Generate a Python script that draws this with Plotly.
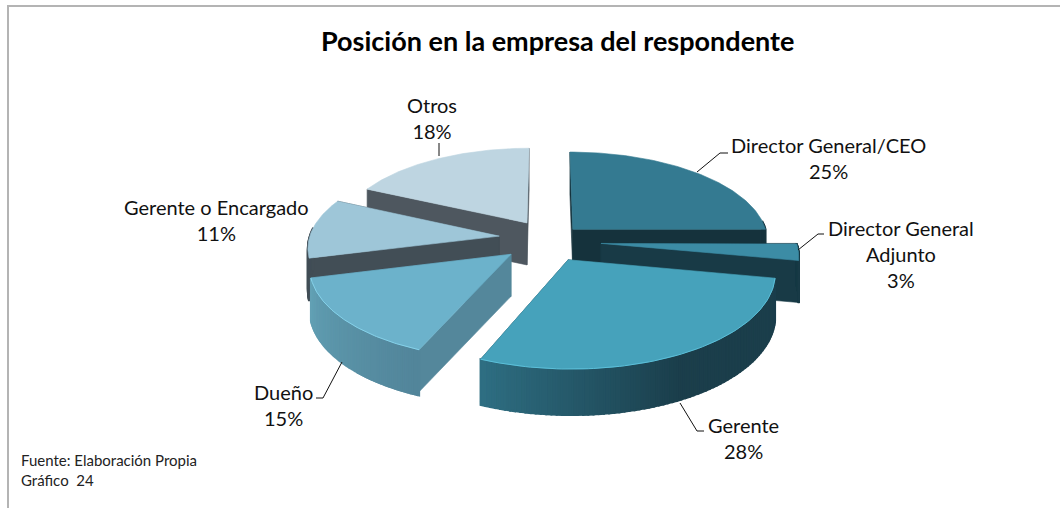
import numpy as np
import plotly.graph_objects as go

title = 'Posición en la empresa del respondente'
labels = ['Director General/CEO', 'Director General<br>Adjunto', 'Gerente', 'Dueño', 'Gerente o Encargado', 'Otros']
values = [25, 3, 28.4, 14.6, 11, 18]
footer = 'Fuente: Elaboración Propia<br>Gráfico  24'

# estilo de cada porción
pull = [0.20, 0.28, 0.24, 0.22, 0.22, 0.20]
scale = [0.98, 0.975, 1, 0.98, 0.95, 0.95]
nudge = [(0, 1), (0, 0), (0, -1), (0, 0), (-2, -3), (3, -3)]
top_col = ['#347a91', '#3c8ca5', '#46a2bb', '#6cb2cb', '#9ec6d8', '#bed5e1']
wall_col = ['#15323c', '#183a46', '#1b3e4b', '#54879b', '#424e56', '#4e575f']
arc_from = ['#15323c', '#183a46', '#1b3e4b', '#52859a', '#424e56', '#4e575f']
arc_to = ['#15323c', '#183a46', '#2e6e82', '#62a0b4', '#424e56', '#4e575f']
arc_flat = [0, 0, 0.5, 0, 0, 0]
rim_col = [None, None, '#5cc0da', '#86d2ea', None, None]
draw_order = [5, 4, 0, 1, 3, 2]
label_pos = [(828, 158), (901, 254), (743, 438), (283, 405), (216, 220), (432, 118)]

# proyección en perspectiva (px)
CX, CY = 545, 241
R, RY, K = 200, 91, 0.12
H = 42

leaders = [
    [(697, 172), (720, 153), (728, 153)],
    [(798, 250), (818, 234), (824, 234)],
    [(680, 403), (697, 431), (704, 431)],
    [(342, 362), (323, 398), (316, 398)],
    [(439, 156), (439, 143)],
]


def project(u, v):
    w = 1 + K * v
    return CX + R * u / w, CY - RY * v / w


def hex_rgb(c):
    return np.array([int(c[i:i + 2], 16) for i in (1, 3, 5)], dtype=float)


fig = go.Figure()


def poly(xs, ys, color, width=0.6):
    fig.add_trace(go.Scatter(x=xs, y=ys, mode='lines', fill='toself', fillcolor=color,
                             line=dict(color=color, width=width), hoverinfo='skip', showlegend=False))


ends = np.cumsum(values) / sum(values) * 2 * np.pi
starts = np.concatenate([[0], ends[:-1]])

for i in draw_order:
    a0, a1 = starts[i], ends[i]
    mid = (a0 + a1) / 2
    du, dv = pull[i] * np.sin(mid), pull[i] * np.cos(mid)
    ang = np.linspace(a0, a1, 80)
    xs, ys = project(scale[i] * np.sin(ang) + du, scale[i] * np.cos(ang) + dv)
    ax, ay = project(du, dv)
    xs, ys, ax, ay = xs + nudge[i][0], ys + nudge[i][1], ax + nudge[i][0], ay + nudge[i][1]

    # paredes radiales, primero la de más atrás
    walls = sorted([0, -1], key=lambda j: ys[j])
    for j in walls:
        poly([ax, xs[j], xs[j], ax, ax], [ay, ys[j], ys[j] + H, ay + H, ay], wall_col[i])

    # pared exterior en franjas para el degradado
    front = np.where(np.cos(ang) < 0.1)[0]
    for n, (p, q) in enumerate(zip(front[:-1], front[1:])):
        t = n / max(len(front) - 2, 1)
        t = max(t - arc_flat[i], 0) / (1 - arc_flat[i])
        c = hex_rgb(arc_from[i]) + (hex_rgb(arc_to[i]) - hex_rgb(arc_from[i])) * t
        color = 'rgb(%d,%d,%d)' % tuple(c)
        hp, hq = H - 4 * np.cos(ang[p]), H - 4 * np.cos(ang[q])
        poly([xs[p], xs[q], xs[q], xs[p], xs[p]], [ys[p], ys[q], ys[q] + hq, ys[p] + hp, ys[p]], color, width=2)

    poly([ax, *xs, ax], [ay, *ys, ay], top_col[i])

    if rim_col[i]:
        fig.add_trace(go.Scatter(x=xs, y=ys, mode='lines', line=dict(color=rim_col[i], width=1),
                                 hoverinfo='skip', showlegend=False))

annotations = [dict(x=557.5, y=40, text='<b>%s</b>' % title, showarrow=False,
                    font=dict(size=27, color='black'))]
for name, val, (lx, ly) in zip(labels, values, label_pos):
    annotations.append(dict(x=lx, y=ly, text='%s<br>%.0f%%' % (name, val), showarrow=False,
                            font=dict(size=20, color='#111111')))
annotations.append(dict(x=19, y=470, text=footer, showarrow=False, xanchor='left', align='left',
                        font=dict(size=15, color='#222222')))

shapes = [
    dict(type='line', x0=7, x1=1060, y0=6, y1=6, line=dict(color='#b4b4b4', width=2)),
    dict(type='line', x0=8, x1=8, y0=6, y1=508, line=dict(color='#b4b4b4', width=2)),
]
for pts in leaders:
    path = 'M ' + ' L '.join('%d %d' % p for p in pts)
    shapes.append(dict(type='path', path=path, line=dict(color='#111111', width=1)))

fig.update_layout(
    width=1060,
    height=508,
    margin=dict(l=0, r=0, t=0, b=0),
    paper_bgcolor='white',
    plot_bgcolor='white',
    font=dict(family='Lato'),
    xaxis=dict(range=[0, 1060], visible=False, fixedrange=True),
    yaxis=dict(range=[508, 0], visible=False, fixedrange=True),
    annotations=annotations,
    shapes=shapes,
)

fig.write_html("out.html", config=dict(displayModeBar=False),
               post_script="document.body.style.margin='0';")
